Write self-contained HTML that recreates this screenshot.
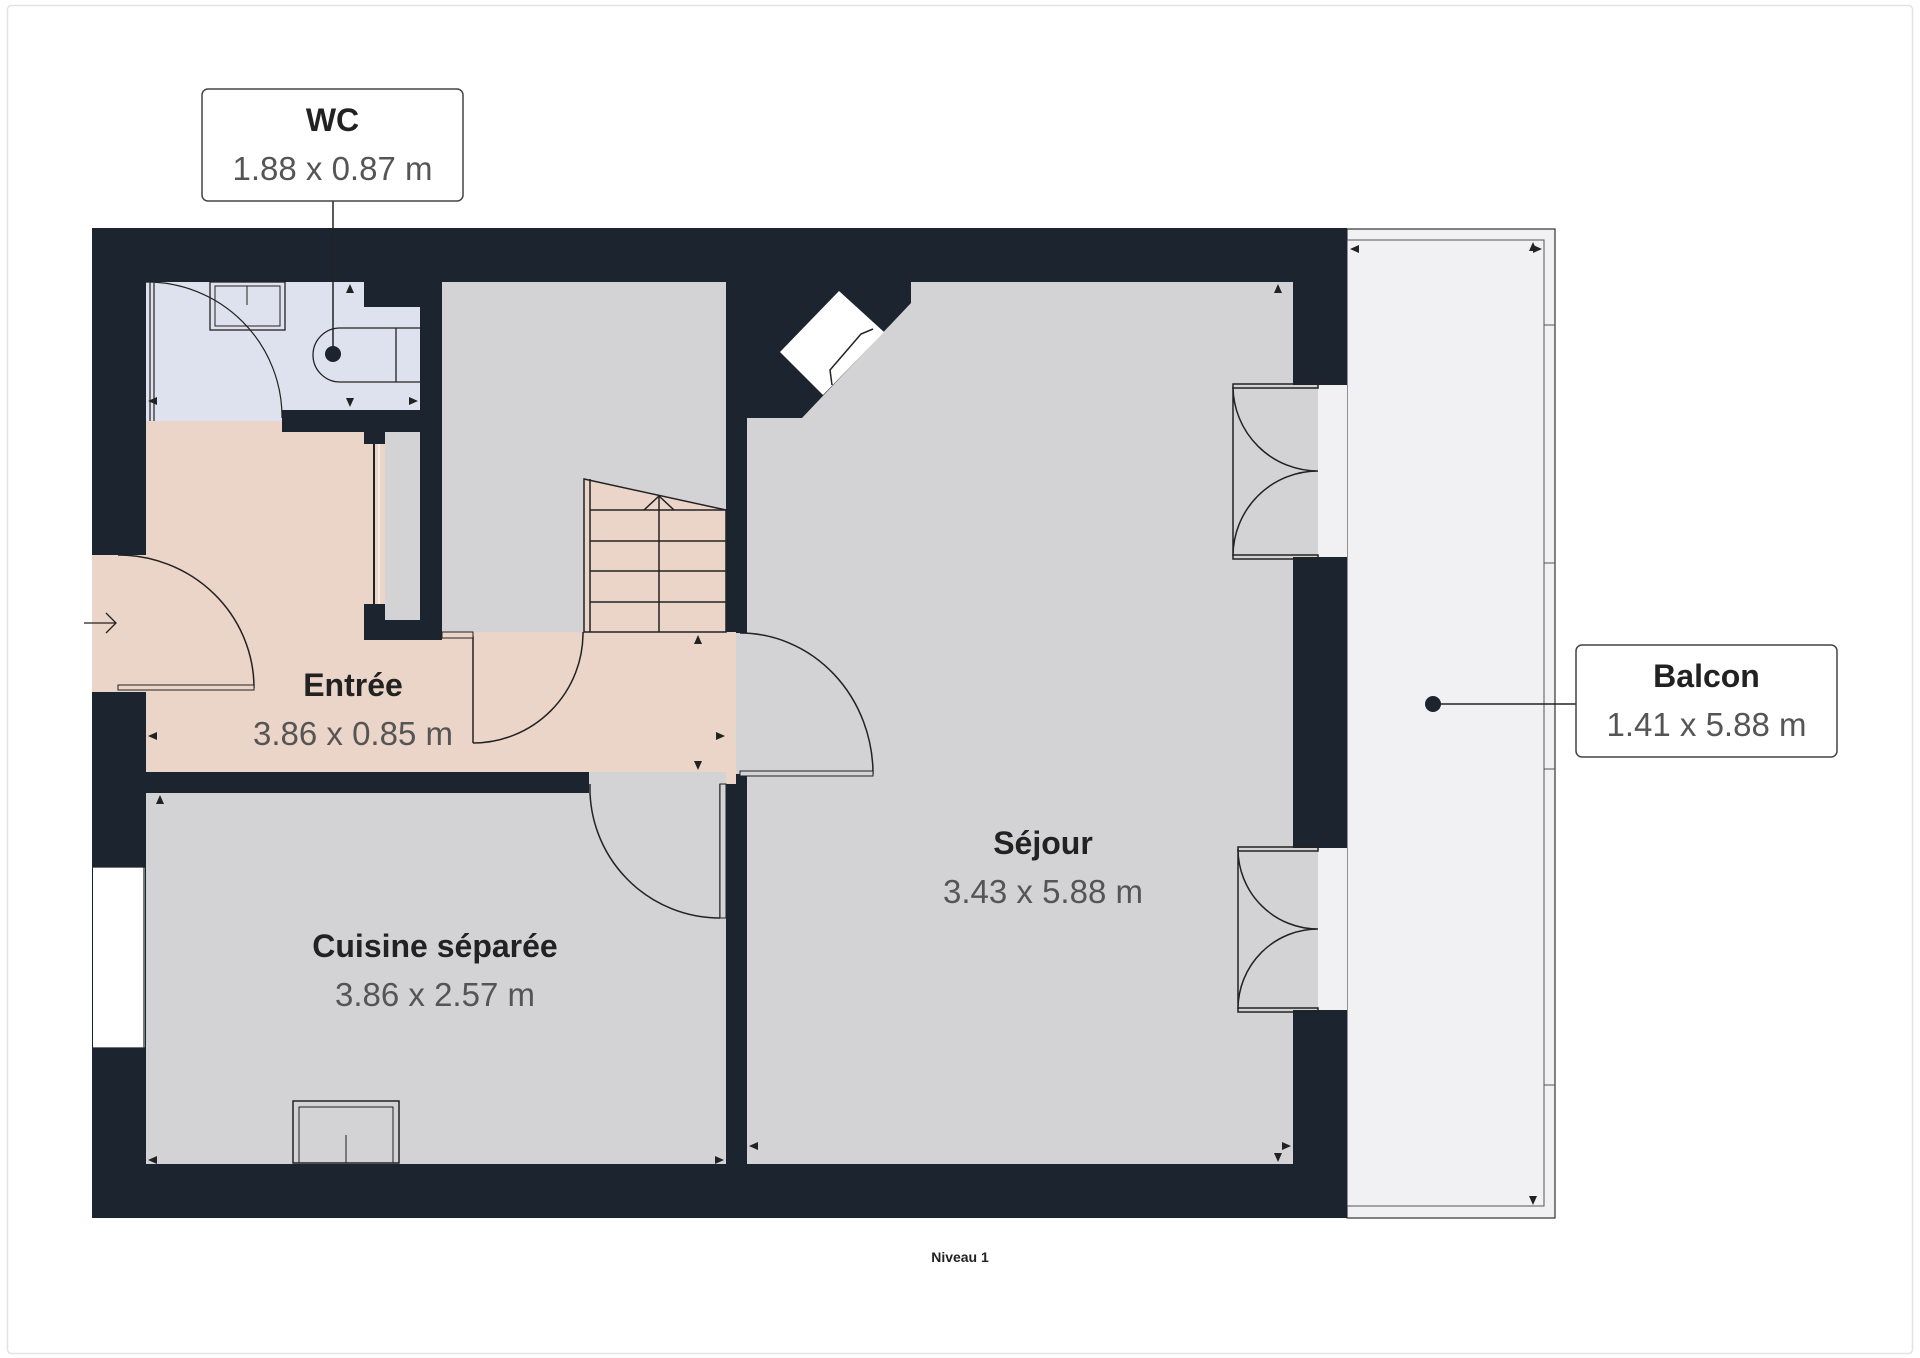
<!DOCTYPE html>
<html><head><meta charset="utf-8"><style>
html,body{margin:0;padding:0;background:#fff;}
svg{display:block;}
text{font-family:"Liberation Sans",sans-serif;}
</style></head><body>
<svg width="1920" height="1358" viewBox="0 0 1920 1358" xmlns="http://www.w3.org/2000/svg">
<rect x="7.5" y="5.5" width="1905" height="1348" rx="4" fill="#fff" stroke="#e2e2e2" stroke-width="1.5"/>
<!-- balcony -->
<rect x="1347" y="229" width="208" height="989" fill="#f1f1f3" stroke="#333" stroke-width="1.2"/>
<rect x="1347" y="240" width="197" height="966" fill="none" stroke="#555" stroke-width="1"/>
<g stroke="#555" stroke-width="1"><line x1="1544" y1="325" x2="1555" y2="325"/><line x1="1544" y1="563" x2="1555" y2="563"/><line x1="1544" y1="769" x2="1555" y2="769"/><line x1="1544" y1="1085" x2="1555" y2="1085"/></g>
<!-- walls -->
<rect x="92" y="228" width="1255" height="990" fill="#1c2430"/>
<!-- WC -->
<path d="M146 282 H364 V307 H420 V410 H282 V421 H146 Z" fill="#dee2ee"/>
<!-- entree peach -->
<path d="M146 421 H282 V432 H364 V640 H442 V632 H736 V784 H589 V772 H146 Z" fill="#ebd5c8"/>
<rect x="92" y="555" width="54" height="137" fill="#ebd5c8"/>
<rect x="364" y="444" width="21" height="160" fill="#ebd5c8"/>
<!-- closet -->
<rect x="385" y="432" width="35" height="188" fill="#d3d3d5"/>
<line x1="374" y1="444" x2="374" y2="604" stroke="#222" stroke-width="2"/>
<line x1="379" y1="444" x2="379" y2="604" stroke="#fff" stroke-width="1"/>
<!-- stair room -->
<rect x="442" y="282" width="284" height="350" fill="#d3d3d5"/>
<path d="M584 479 L726 510 V632 H584 Z" fill="#ebd5c8" stroke="#222" stroke-width="1.5"/>
<g stroke="#222" stroke-width="1.5"><line x1="590" y1="510" x2="726" y2="510"/><line x1="590" y1="541" x2="726" y2="541"/><line x1="590" y1="571" x2="726" y2="571"/><line x1="590" y1="602" x2="726" y2="602"/><line x1="659" y1="497" x2="659" y2="632"/><polyline points="644,510 659,496 674,510" fill="none"/><line x1="590" y1="479" x2="590" y2="632"/></g>
<!-- door entree stair -->
<path d="M473 636 V743 M473 743 A110 110 0 0 0 583 632" fill="none" stroke="#222" stroke-width="1.5"/>
<rect x="442" y="632" width="31" height="6" fill="#ebd5c8" stroke="#222" stroke-width="1"/>
<!-- kitchen -->
<rect x="146" y="793" width="580" height="371" fill="#d3d3d5"/>
<rect x="589" y="772" width="137" height="21" fill="#d3d3d5"/>
<path d="M590 784 A130 130 0 0 0 720 918 M720 918 V784" fill="none" stroke="#222" stroke-width="1.5"/>
<rect x="720" y="784" width="6" height="134" fill="#d3d3d5" stroke="#222" stroke-width="1"/>
<rect x="93" y="867" width="52" height="181" fill="#fff"/>
<g stroke="#222" stroke-width="1.2"><line x1="93" y1="867" x2="145" y2="867"/><line x1="93" y1="1048" x2="145" y2="1048"/><line x1="144" y1="867" x2="144" y2="1048"/></g>
<rect x="293" y="1101" width="106" height="62" fill="none" stroke="#222" stroke-width="1.5"/>
<rect x="299" y="1107" width="94" height="56" fill="none" stroke="#222" stroke-width="1"/>
<line x1="346" y1="1135" x2="346" y2="1163" stroke="#222" stroke-width="1"/>
<!-- sejour -->
<path d="M747 418 H802 L911 303 V282 H1293 V1164 H747 Z" fill="#d3d3d5"/>
<polygon points="839,291 884,332 823,395 780,352" fill="#fff"/>
<path d="M873 329 L861 334 L830 370 L832 385" fill="none" stroke="#222" stroke-width="1.5"/>
<!-- door wall opening -->
<rect x="726" y="633" width="21" height="141" fill="#d3d3d5"/>
<rect x="726" y="633" width="10" height="141" fill="#ebd5c8"/>
<path d="M740 633 A133 141 0 0 1 873 774 M873 774 H740" fill="none" stroke="#222" stroke-width="1.5"/>
<rect x="740" y="771" width="133" height="5" fill="#d3d3d5" stroke="#222" stroke-width="1"/>
<!-- french doors -->
<g>
<rect x="1293" y="385" width="54" height="172" fill="#d3d3d5"/><rect x="1318" y="385" width="29" height="172" fill="#f1f1f3"/>
<rect x="1293" y="848" width="54" height="162" fill="#d3d3d5"/><rect x="1318" y="848" width="29" height="162" fill="#f1f1f3"/>
<g fill="none" stroke="#222" stroke-width="1.5">
<path d="M1233 387 V471 M1233 387 A85 85 0 0 0 1318 471 M1233 556 V471 M1233 556 A85 85 0 0 1 1318 471"/>
<path d="M1238 849 V929 M1238 849 A80 80 0 0 0 1318 929 M1238 1009 V929 M1238 1009 A80 80 0 0 1 1318 929"/>
<rect x="1233" y="384" width="85" height="4"/><rect x="1233" y="555" width="85" height="4"/>
<rect x="1238" y="847" width="80" height="4"/><rect x="1238" y="1008" width="80" height="4"/>
</g></g>
<!-- outer entry door -->
<path d="M118 555 A136 133 0 0 1 254 688 M118 688 H254" fill="none" stroke="#222" stroke-width="1.5"/>
<rect x="118" y="685" width="136" height="5" fill="#ebd5c8" stroke="#222" stroke-width="1"/>
<path d="M84 623 H115 M106 613 L116 623 L106 633" fill="none" stroke="#222" stroke-width="1.3"/>
<!-- WC door & fixtures -->
<path d="M146 282 A135 135 0 0 1 282 418 M150 282 V421 M154 282 V421" fill="none" stroke="#222" stroke-width="1.2"/>
<rect x="210" y="282" width="75" height="48" fill="none" stroke="#222" stroke-width="1.3"/>
<rect x="215" y="286" width="65" height="40" fill="none" stroke="#222" stroke-width="1"/>
<line x1="247" y1="286" x2="247" y2="305" stroke="#222" stroke-width="1"/>
<path d="M420 328 H340 A26 26 0 0 0 340 382 H420" fill="none" stroke="#222" stroke-width="1.3"/>
<line x1="396" y1="328" x2="396" y2="382" stroke="#222" stroke-width="1.3"/>
<!-- dimension arrows -->
<g fill="#222">
<path d="M350 284 l4 9 h-8z"/><path d="M350 407 l4 -9 h-8z"/><path d="M418 401 l-9 4 v-8z"/><path d="M148 401 l9 4 v-8z"/>
<path d="M148 736 l9 4 v-8z"/><path d="M725 736 l-9 4 v-8z"/><path d="M698 635 l4 9 h-8z"/><path d="M698 770 l4 -9 h-8z"/>
<path d="M160 795 l4 9 h-8z"/><path d="M148 1160 l9 4 v-8z"/><path d="M724 1160 l-9 4 v-8z"/>
<path d="M1278 284 l4 9 h-8z"/><path d="M749 1146 l9 4 v-8z"/><path d="M1291 1146 l-9 4 v-8z"/><path d="M1278 1162 l4 -9 h-8z"/>
<path d="M1350 249 l9 4 v-8z"/><path d="M1542 249 l-9 4 v-8z"/><path d="M1533 242 l4 9 h-8z"/><path d="M1533 1205 l4 -9 h-8z"/>
</g>
<!-- labels -->
<line x1="333" y1="201" x2="333" y2="354" stroke="#222" stroke-width="1.5"/>
<circle cx="333" cy="354" r="8" fill="#1c2430"/>
<rect x="202" y="89" width="261" height="112" rx="6" fill="#fff" stroke="#444" stroke-width="1.5"/>
<text x="332.5" y="131" text-anchor="middle" font-size="32" font-weight="bold" fill="#222">WC</text>
<text x="332.5" y="180" text-anchor="middle" font-size="33" fill="#555">1.88 x 0.87 m</text>
<line x1="1433" y1="704" x2="1576" y2="704" stroke="#222" stroke-width="1.5"/>
<circle cx="1433" cy="704" r="8" fill="#1c2430"/>
<rect x="1576" y="645" width="261" height="112" rx="6" fill="#fff" stroke="#444" stroke-width="1.5"/>
<text x="1706.5" y="687" text-anchor="middle" font-size="32" font-weight="bold" fill="#222">Balcon</text>
<text x="1706.5" y="736" text-anchor="middle" font-size="33" fill="#555">1.41 x 5.88 m</text>
<text x="353" y="696" text-anchor="middle" font-size="32" font-weight="bold" fill="#222">Entrée</text>
<text x="353" y="745" text-anchor="middle" font-size="33" fill="#555">3.86 x 0.85 m</text>
<text x="435" y="957" text-anchor="middle" font-size="32" font-weight="bold" fill="#222">Cuisine séparée</text>
<text x="435" y="1006" text-anchor="middle" font-size="33" fill="#555">3.86 x 2.57 m</text>
<text x="1043" y="854" text-anchor="middle" font-size="32" font-weight="bold" fill="#222">Séjour</text>
<text x="1043" y="903" text-anchor="middle" font-size="33" fill="#555">3.43 x 5.88 m</text>
<text x="960" y="1262" text-anchor="middle" font-size="14" font-weight="bold" fill="#222">Niveau 1</text>
</svg>
</body></html>
